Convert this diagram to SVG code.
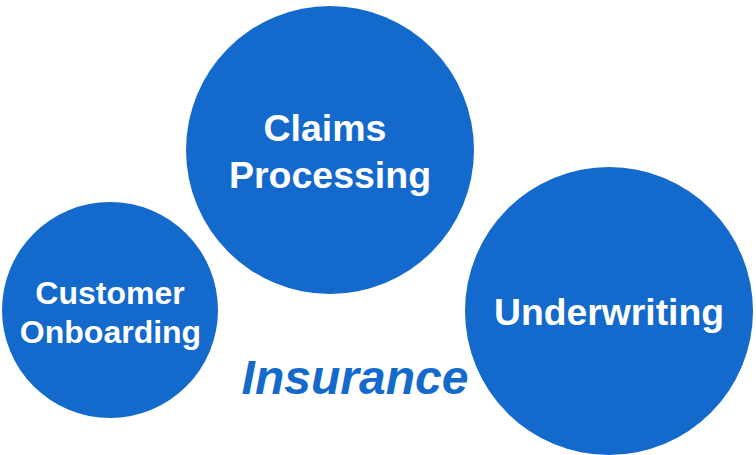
<svg xmlns="http://www.w3.org/2000/svg" width="756" height="455" viewBox="0 0 756 455">
<style>
.c{fill:#1469CC}
.t{fill:#FFFFFF;font-family:"Liberation Sans",Arial,sans-serif;font-weight:bold;text-anchor:middle}
.title{fill:#1469CC;font-family:"Liberation Sans",Arial,sans-serif;font-weight:bold;font-style:italic;text-anchor:middle}
</style>
<rect width="756" height="455" fill="#FFFFFF"/>
<g id="claims">
<circle class="c" cx="330" cy="150" r="144"/>
<text class="t" x="325" y="141" font-size="37.5">Claims</text>
<text class="t" x="330" y="188" font-size="37.5">Processing</text>
</g>
<g id="onboarding">
<circle class="c" cx="110" cy="310" r="108"/>
<text class="t" x="110" y="304" font-size="32">Customer</text>
<text class="t" x="110.5" y="343" font-size="32">Onboarding</text>
</g>
<g id="underwriting">
<circle class="c" cx="609" cy="311" r="144"/>
<text class="t" x="609" y="325" font-size="37.3">Underwriting</text>
</g>
<g id="connectors"></g>
<text class="title" x="355" y="394" font-size="48">Insurance</text>
</svg>
